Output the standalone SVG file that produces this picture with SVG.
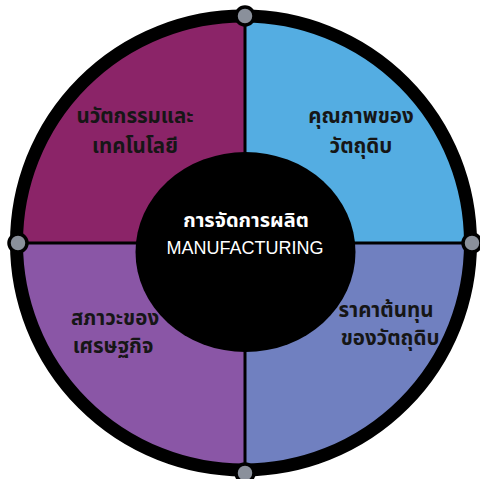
<svg xmlns="http://www.w3.org/2000/svg" width="480" height="479" viewBox="0 0 480 479">
  <style>
    .lbl { font-family: "Noto Sans Thai", "Noto Sans", "DejaVu Sans", sans-serif; font-weight: 700; font-size: 20.5px; fill: #161616; text-anchor: middle; }
    .ctr { font-family: "Noto Sans Thai", "Noto Sans", "DejaVu Sans", sans-serif; font-weight: 700; font-size: 20px; fill: #ffffff; text-anchor: middle; }
    .eng { font-family: "Liberation Sans", "Noto Sans", sans-serif; font-weight: 400; font-size: 18px; fill: #ffffff; text-anchor: middle; }
    .dot { fill: #8a909b; stroke: #000000; stroke-width: 3.5; }
    .div { stroke: #000000; stroke-width: 3; fill: none; }
  </style>
  <rect width="480" height="479" fill="#ffffff"/>
  <g id="q-innovation">
    <path d="M245,243 L16,243 A227,227 0 0 1 245,16 Z" fill="#8b2468"/>
    <text class="lbl" x="135" y="123">นวัตกรรมและ</text>
    <text class="lbl" x="135" y="153">เทคโนโลยี</text>
  </g>
  <g id="q-quality">
    <path d="M245,243 L245,16 A227,227 0 0 1 472,243 Z" fill="#54ade2"/>
    <text class="lbl" x="361" y="123">คุณภาพของ</text>
    <text class="lbl" x="361" y="153">วัตถุดิบ</text>
  </g>
  <g id="q-economy">
    <path d="M245,243 L245,470 A227,227 0 0 1 16,243 Z" fill="#8a56a6"/>
    <text class="lbl" x="115" y="325">สภาวะของ</text>
    <text class="lbl" x="113" y="353">เศรษฐกิจ</text>
  </g>
  <g id="q-cost">
    <path d="M245,243 L472,243 A227,227 0 0 1 245,470 Z" fill="#7080c0"/>
    <text class="lbl" x="386" y="317">ราคาต้นทุน</text>
    <text class="lbl" x="390" y="345">ของวัตถุดิบ</text>
  </g>
  <g id="connectors">
    <line class="div" x1="245" y1="16" x2="245" y2="470"/>
    <line class="div" x1="16" y1="243" x2="472" y2="243"/>
    <circle cx="243.5" cy="243" r="227" fill="none" stroke="#000000" stroke-width="13"/>
  </g>
  <g id="center">
    <ellipse cx="245.5" cy="252" rx="110" ry="100" fill="#000000"/>
    <text class="ctr" x="246" y="227">การจัดการผลิต</text>
    <text class="eng" x="245" y="254">MANUFACTURING</text>
  </g>
  <g id="dots">
    <circle class="dot" cx="245" cy="16" r="9"/>
    <circle class="dot" cx="18" cy="243" r="9"/>
    <circle class="dot" cx="472" cy="243" r="9"/>
    <circle class="dot" cx="245" cy="473" r="9"/>
  </g>
</svg>
